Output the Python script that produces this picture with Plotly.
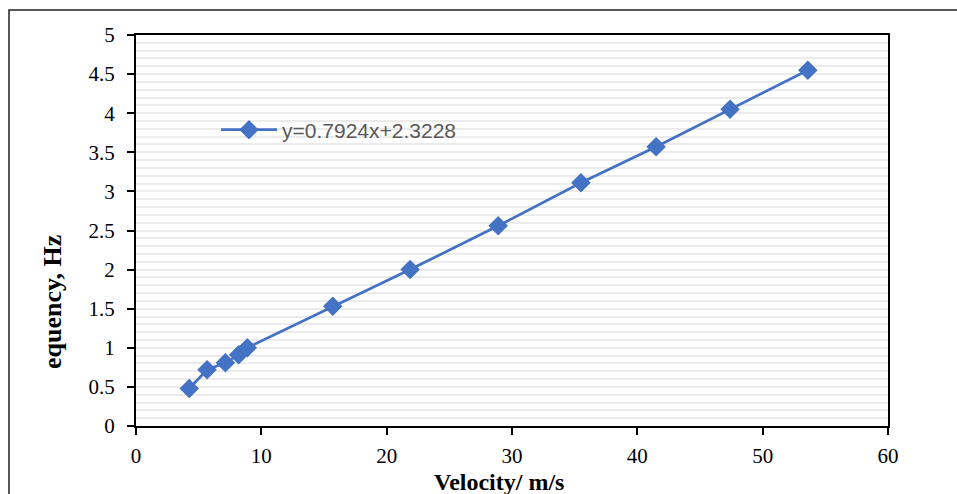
import plotly.graph_objects as go

velocity = [4.25, 5.67, 7.13, 8.19, 8.88, 15.7, 21.87, 28.9, 35.5, 41.5, 47.4, 53.6]
frequency = [0.48, 0.72, 0.81, 0.91, 1.00, 1.53, 2.00, 2.56, 3.11, 3.57, 4.05, 4.55]
series_name = "y=0.7924x+2.3228"
x_title = "Velocity/ m/s"
y_title = "equency, Hz"

blue = "#4472C4"
serif = "Liberation Serif, Times New Roman, serif"

fig = go.Figure()
fig.add_trace(go.Scatter(
    x=velocity, y=frequency, mode="lines+markers", name=series_name,
    line=dict(color=blue, width=2.75),
    marker=dict(symbol="diamond", size=15, color=blue),
))

W, H = 957, 494
ml, mr, mt, mb = 136, 69, 35, 68
pw, ph = W - ml - mr, H - mt - mb

def px_to_paper_x(px):
    return (px - ml) / pw

def px_to_paper_y(py):
    return (H - mb - py) / ph

fig.update_layout(
    width=W, height=H,
    margin=dict(l=ml, r=mr, t=mt, b=mb),
    paper_bgcolor="white", plot_bgcolor="white",
    font=dict(family=serif, color="black", size=21),
    showlegend=True,
    legend=dict(
        x=px_to_paper_x(216), y=px_to_paper_y(130), xanchor="left", yanchor="middle",
        bgcolor="rgba(0,0,0,0)", borderwidth=0, itemwidth=56,
        font=dict(family="Liberation Sans, Arial, sans-serif", size=21, color="#595959"),
    ),
    xaxis=dict(
        range=[0, 60], dtick=10, tick0=0,
        showgrid=False, zeroline=False,
        showline=True, linecolor="black", linewidth=2, mirror=True,
        ticks="outside", ticklen=7, tickwidth=2, tickcolor="black",
        tickfont=dict(family=serif, size=21, color="black"),
        ticklabelstandoff=3,
    ),
    yaxis=dict(
        range=[0, 5], dtick=0.5, tick0=0,
        showgrid=True, gridcolor="#ebebeb", gridwidth=2,
        minor=dict(dtick=0.1, showgrid=True, gridcolor="#ebebeb", gridwidth=2),
        zeroline=False,
        showline=True, linecolor="black", linewidth=2, mirror=True,
        ticks="outside", ticklen=7, tickwidth=2, tickcolor="black",
        tickfont=dict(family=serif, size=21, color="black"),
        ticklabelstandoff=8,
    ),
)

# x-axis title
fig.add_annotation(
    text="<b>" + x_title + "</b>", xref="paper", yref="paper",
    x=px_to_paper_x(499), y=px_to_paper_y(482), xanchor="center", yanchor="middle",
    showarrow=False, font=dict(family=serif, size=24, color="black"),
)
# y-axis title
fig.add_annotation(
    text="<b>" + y_title + "</b>", xref="paper", yref="paper",
    x=px_to_paper_x(52), y=px_to_paper_y(302), xanchor="center", yanchor="middle",
    textangle=-90, showarrow=False, font=dict(family=serif, size=26, color="black"),
)

# outer chart border (partially cropped in the reference)
fig.add_shape(
    type="rect", xref="paper", yref="paper",
    x0=px_to_paper_x(9), x1=px_to_paper_x(990),
    y0=px_to_paper_y(560), y1=px_to_paper_y(10),
    line=dict(color="#222222", width=1.5), fillcolor="rgba(0,0,0,0)", layer="below",
)

fig.write_html(
    "out.html",
    config={"displayModeBar": False},
    post_script="document.body.style.margin='0';document.body.style.padding='0';"
                "document.documentElement.style.overflow='hidden';",
)
